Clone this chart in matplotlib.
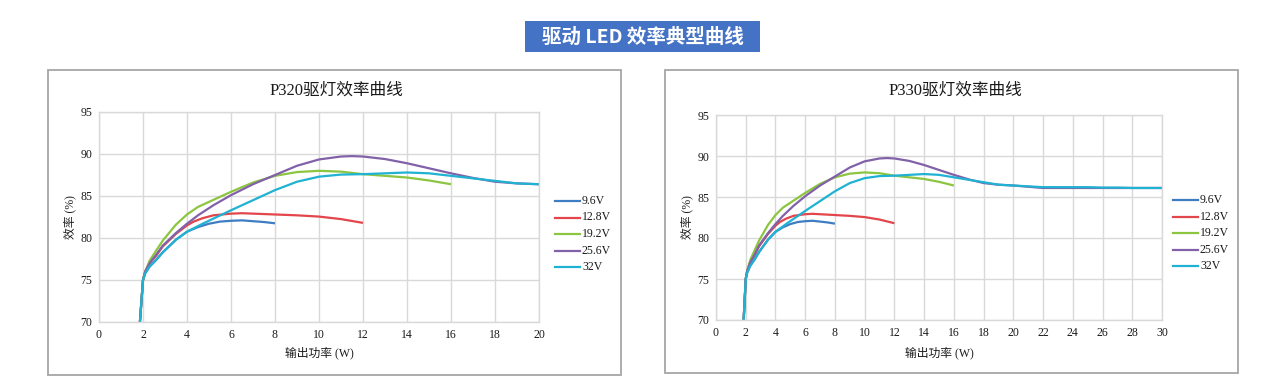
import matplotlib
matplotlib.use("Agg")
import matplotlib.pyplot as plt
from matplotlib.patches import Rectangle

plt.rcParams['font.family'] = ['Liberation Serif', 'Noto Sans CJK SC', 'DejaVu Sans']

# ---------------- data ----------------
series_names = ["9.6V", "12.8V", "19.2V", "25.6V", "32V"]
series_colors = ["#3f7dc3", "#e2464b", "#8cc540", "#8161a8", "#1fb2d2"]

x_96 = [1.86, 2.0, 2.1, 2.3, 2.6, 2.9, 3.5, 4.0, 4.5, 5.0, 5.5, 6.0, 6.5, 7.0, 7.5, 8.0]
y_96 = [70, 75, 75.8, 76.6, 77.4, 78.3, 79.8, 80.75, 81.3, 81.7, 81.95, 82.05, 82.1, 82.0, 81.9, 81.75]

x_128 = [1.86, 2.0, 2.1, 2.3, 2.6, 2.9, 3.5, 4.0, 4.3, 4.7, 5.2, 6.0, 6.5, 7.0, 8.0, 9.0, 10.0, 11.0, 12.0]
y_128 = [70, 75, 76.0, 77.0, 77.9, 79.0, 80.5, 81.5, 81.95, 82.35, 82.7, 82.9, 82.95, 82.9, 82.8, 82.7, 82.55, 82.25, 81.8]

x_192 = [1.86, 2.0, 2.1, 2.3, 2.6, 2.9, 3.5, 4.0, 4.5, 5.0, 6.0, 7.0, 8.0, 9.0, 10.0, 11.0, 12.0, 13.0, 14.0, 15.0, 16.0]
y_192 = [70, 75, 76.0, 77.3, 78.5, 79.7, 81.6, 82.8, 83.7, 84.3, 85.5, 86.6, 87.4, 87.85, 88.0, 87.9, 87.6, 87.4, 87.2, 86.85, 86.4]

x_256 = [1.86, 2.0, 2.1, 2.3, 2.6, 2.9, 3.5, 4.0, 4.5, 5.2, 6.0, 7.0, 8.0, 9.0, 10.0, 11.0, 11.5, 12.0, 13.0, 14.0, 15.0, 16.0, 17.0, 18.0, 19.0, 20.0]
y_256 = [70, 75, 76.0, 77.0, 78.0, 79.1, 80.6, 81.7, 82.7, 83.9, 85.1, 86.4, 87.5, 88.6, 89.35, 89.7, 89.75, 89.7, 89.4, 88.9, 88.3, 87.7, 87.15, 86.7, 86.5, 86.4]

x_32 = [1.86, 2.0, 2.1, 2.3, 2.6, 2.9, 3.5, 4.0, 4.75, 6.0, 7.0, 8.0, 9.0, 10.0, 11.0, 12.0, 13.0, 14.0, 15.0, 16.0, 17.0, 18.0, 19.0, 20.0]
y_32 = [70, 75, 75.8, 76.6, 77.4, 78.3, 79.8, 80.75, 81.75, 83.3, 84.5, 85.7, 86.7, 87.3, 87.55, 87.6, 87.7, 87.8, 87.7, 87.4, 87.1, 86.8, 86.5, 86.4]

# P330 extension beyond 20 W
x_256_ext = [21, 22, 23, 24, 25, 26, 27, 28, 29, 30]
y_256_ext = [86.25, 86.1, 86.1, 86.1, 86.1, 86.1, 86.1, 86.1, 86.1, 86.1]
x_32_ext = [21, 22, 23, 24, 25, 26, 27, 28, 29, 30]
y_32_ext = [86.3, 86.2, 86.2, 86.2, 86.2, 86.15, 86.15, 86.1, 86.1, 86.1]

titles = ["P320驱灯效率曲线", "P330驱灯效率曲线"]
x_limits = [20, 30]
y_ticks = [70, 75, 80, 85, 90, 95]
x_label = "输出功率 (W)"
y_label = "效率 (%)"
banner_text = "驱动 LED 效率典型曲线"

# ---------------- figure ----------------
W, H = 1284, 391
fig = plt.figure(figsize=(W / 100, H / 100), dpi=100)
fig.patch.set_facecolor("white")

def fx(px):
    return px / W

def fy(py):
    return 1 - py / H

# banner
fig.patches.append(Rectangle((fx(525), fy(52)), fx(760) - fx(525), fy(21) - fy(52),
                             transform=fig.transFigure, facecolor="#4472c4", edgecolor="none",
                             zorder=-5))
fig.text(fx(643), fy(37), banner_text, color="white", fontsize=14, fontweight="bold",
         ha="center", va="center", family=['Noto Sans CJK SC', 'DejaVu Sans'])

panels = [
    dict(box=(48, 70, 621, 375), ax=(99, 112, 539, 322), title_x=336, leg=(555, 201)),
    dict(box=(665, 70, 1238, 373), ax=(716, 115, 1162, 320), title_x=955, leg=(1173, 200)),
]

base = [(x_96, y_96), (x_128, y_128), (x_192, y_192), (x_256, y_256), (x_32, y_32)]

for i, p in enumerate(panels):
    bx0, by0, bx1, by1 = p["box"]
    fig.patches.append(Rectangle((fx(bx0), fy(by1)), fx(bx1) - fx(bx0), fy(by0) - fy(by1),
                                 transform=fig.transFigure, facecolor="none",
                                 edgecolor="#a6a6a6", linewidth=1.3, zorder=-5))
    ax0, ay0, ax1, ay1 = p["ax"]
    ax = fig.add_axes([fx(ax0), fy(ay1), fx(ax1) - fx(ax0), fy(ay0) - fy(ay1)])
    ax.set_xlim(0, x_limits[i])
    ax.set_ylim(70, 95)
    ax.set_xticks(range(0, x_limits[i] + 1, 2))
    ax.set_yticks(y_ticks)
    ax.grid(True, color="#d9d9d9", linewidth=1.0)
    ax.set_axisbelow(True)
    for s in ax.spines.values():
        s.set_color("#d9d9d9")
        s.set_linewidth(1.0)
    ax.tick_params(length=0, labelsize=8.5, pad=5, colors="#1a1a1a")

    for k, (xs, ys) in enumerate(base):
        xs = list(xs)
        ys = list(ys)
        if i == 1 and k == 3:
            xs += x_256_ext
            ys += y_256_ext
        if i == 1 and k == 4:
            xs += x_32_ext
            ys += y_32_ext
        ax.plot(xs, ys, color=series_colors[k], linewidth=1.6, solid_capstyle="butt",
                solid_joinstyle="round", label=series_names[k], clip_on=False)

    fig.text(fx(p["title_x"]), fy(91), titles[i], fontsize=12, ha="center", va="center",
             color="#1a1a1a")
    fig.text(fx((ax0 + ax1) / 2), fy(353), x_label, fontsize=8.5, ha="center", va="center",
             color="#1a1a1a")
    fig.text(fx(bx0 + 22), fy((ay0 + ay1) / 2), y_label, fontsize=8.5, ha="center", va="center",
             rotation=90, color="#1a1a1a")

    # legend
    lx, ly = p["leg"]
    for k, name in enumerate(series_names):
        yy = ly + k * 16.5
        fig.lines.append(plt.Line2D([fx(lx), fx(lx + 25)], [fy(yy), fy(yy)],
                                    transform=fig.transFigure, color=series_colors[k],
                                    linewidth=1.6))
        fig.text(fx(lx + 27), fy(yy), name, fontsize=8.5, ha="left", va="center",
                 color="#1a1a1a")

fig.savefig("out.png", dpi=100)
